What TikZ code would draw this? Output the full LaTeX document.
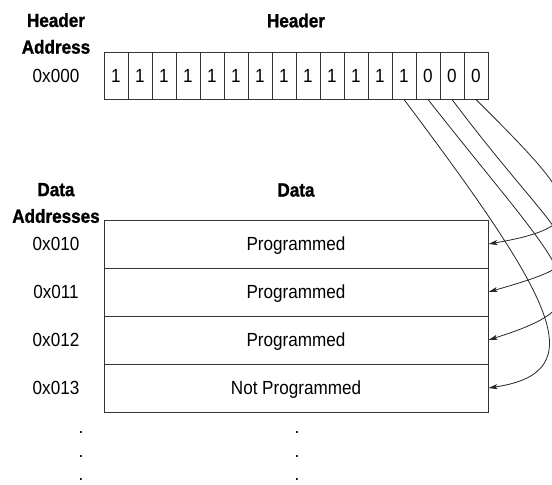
\documentclass[tikz,border=0pt]{standalone}
\usepackage{fontspec}
\setmainfont{Liberation Sans}[FakeStretch=0.9,BoldFeatures={FakeBold=1.2}]
\usetikzlibrary{arrows.meta}
\newcommand{\txtsize}{\fontsize{19}{26.7}\selectfont}
\tikzset{
	bitcell/.style={draw=black!80,line width=0.9pt,minimum width=24pt,minimum height=47pt,inner sep=0pt,text height=13.5pt,text depth=0pt},
	datarow/.style={draw=black!80,line width=0.9pt,minimum width=384pt,minimum height=48pt,inner sep=0pt,text height=13.5pt,text depth=0pt},
	addr/.style={inner sep=0pt,text height=13.5pt,text depth=0pt},
	hdr/.style={inner sep=0pt,align=center,font=\txtsize\bfseries},
	flow/.style={black!85,line width=0.8pt,-{Stealth[length=9pt,width=5pt,inset=2pt]}}
}
\begin{document}
\begin{tikzpicture}[x=1pt,y=-1pt,font=\txtsize]
	\useasboundingbox (0,0) rectangle (552,485);
	\clip (0,0) rectangle (552,485);
	% header word
	\node[hdr,anchor=base] (hhead) at (296,27.3) {Header};
	\node[hdr] (haddr) at (56,33.5) {Header\\Address};
	\node[addr] (a0) at (56,75.5) {0x000};
	\foreach \b [count=\i] in {1,1,1,1,1,1,1,1,1,1,1,1,1,0,0,0}{
		\node[bitcell] (b\i) at (92+24*\i,75.5) {\b};
	}
	% data words
	\node[hdr,anchor=base] (dhead) at (296,196.5) {Data};
	\node[hdr] (daddr) at (56,203) {Data\\Addresses};
	\foreach \a/\t [count=\i] in {0x010/Programmed,0x011/Programmed,0x012/Programmed,0x013/Not Programmed}{
		\node[datarow] (r\i) at (296,196+48*\i) {\t};
		\node[addr] (a\i) at (56,196+48*\i) {\a};
	}
	\foreach \y [count=\k] in {433,457,480}{
		\node[anchor=base,inner sep=0pt] (dl\k) at (81,\y) {.};
		\node[anchor=base,inner sep=0pt] (dr\k) at (297,\y) {.};
	}
	% bit -> word
	\foreach \src/\dst/\px/\py/\qx/\qy in {13/4/150/200/106/-16,14/3/143/182/123/-39,15/2/120/160/125/-36,16/1/100/100/111/-19}{
		\draw[flow] (b\src.south) .. controls +(\px,\py) and +(\qx,\qy) .. (r\dst.east);
	}
\end{tikzpicture}
\end{document}
